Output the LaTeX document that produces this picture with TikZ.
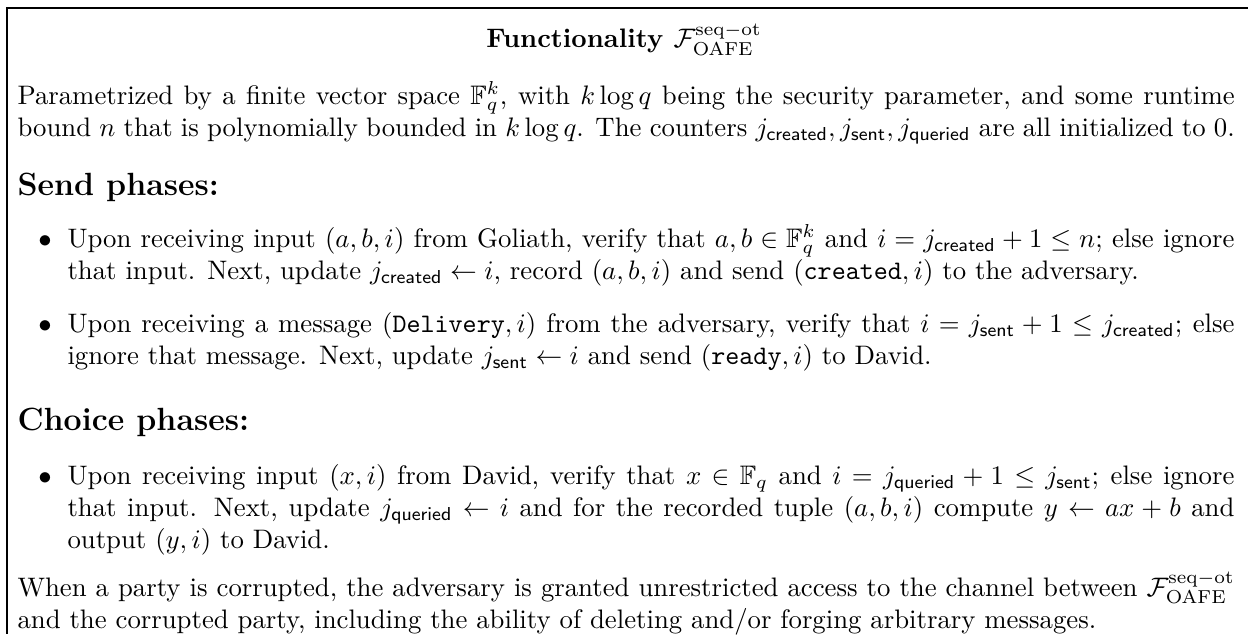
\documentclass[tikz,border=0pt]{standalone}
\usepackage{amsmath}
\usepackage{amssymb}
\usepackage{amsfonts}
\usepackage{tikz}
\usetikzlibrary{positioning}

\newcommand{\Fot}{\mathcal{F}_{\mathrm{OAFE}}^{\mathrm{seq-ot}}}
\newcommand{\jcr}{j_{\mathsf{created}}}
\newcommand{\jse}{j_{\mathsf{sent}}}
\newcommand{\jqu}{j_{\mathsf{queried}}}

\begin{document}
\begin{tikzpicture}[x=0.3738pt, y=-0.3738pt,
    txt/.style={anchor=base west, inner sep=0pt, text width=455pt, align=justify},
    itm/.style={anchor=base west, inner sep=0pt, text width=436.2pt, align=justify},
    dot/.style={anchor=base, inner sep=0pt},
    head/.style={anchor=base west, inner sep=0pt, font=\large\bfseries}]

    \useasboundingbox (0,0) rectangle (1248,634);
    \draw[line width=0.4pt] (1248,8) -- (7,8) -- (7,634);

    \node[anchor=base, inner sep=0pt] (title) at (624,48) {\bfseries Functionality $\Fot$};
    \node[txt] (intro) at (17,104) {Parametrized by a finite vector space $\mathbb{F}_q^k$, with $k\log q$ being the security parameter, and some runtime bound $n$ that is polynomially bounded in $k\log q$. The counters $\jcr, \jse, \jqu$ are all initialized to~0.};

    \node[head] (send) at (17,195) {Send phases:};
    \node[dot] (b1) at (45,247) {$\bullet$};
    \node[itm] (item1) at (67,247) {Upon receiving input $(a,b,i)$ from Goliath, verify that $a,b\in\mathbb{F}_q^k$ and $i=\jcr+1\leq n$; else ignore that input. Next, update $\jcr\leftarrow i$, record $(a,b,i)$ and send $(\texttt{created},i)$ to the adversary.};
    \node[dot] (b2) at (45,332) {$\bullet$};
    \node[itm] (item2) at (67,332) {Upon receiving a message $(\texttt{Delivery},i)$ from the adversary, verify that $i=\jse+1\leq\jcr$; else ignore that message. Next, update $\jse\leftarrow i$ and send $(\texttt{ready},i)$ to David.};

    \node[head] (choice) at (17,430) {Choice phases:};
    \node[dot] (b3) at (45,484) {$\bullet$};
    \node[itm] (item3) at (67,484) {Upon receiving input $(x,i)$ from David, verify that $x\in\mathbb{F}_q$ and $i=\jqu+1\leq\jse$; else ignore\linebreak that input. Next, update $\jqu\leftarrow i$ and for the recorded tuple $(a,b,i)$ compute $y\leftarrow ax+b$ and output $(y,i)$ to David.};

    \node[txt] (note) at (17,596) {When a party is corrupted, the adversary is granted unrestricted access to the channel between $\Fot$ and the corrupted party, including the ability of deleting and/or forging arbitrary messages.};

\end{tikzpicture}
\end{document}
